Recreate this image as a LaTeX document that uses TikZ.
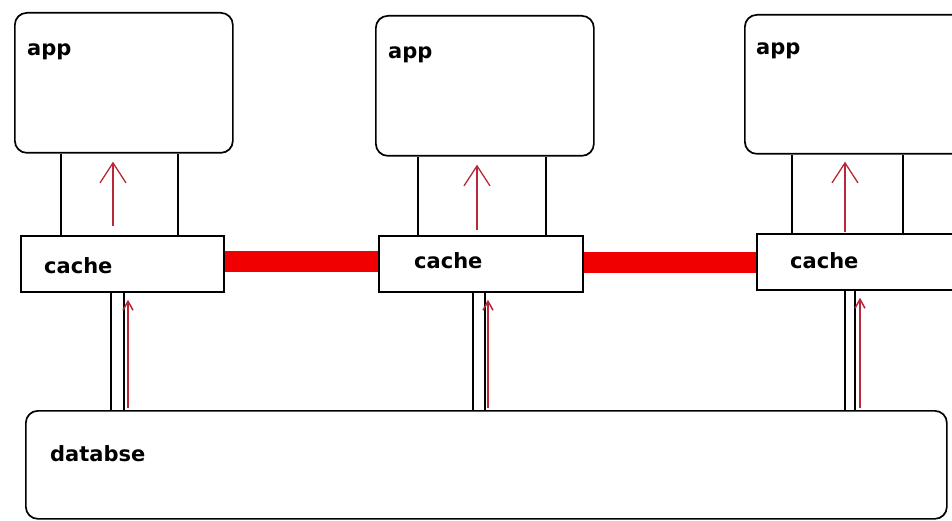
\documentclass[tikz,border=0pt]{standalone}
\usepackage{fontspec}
\setmainfont{DejaVu Sans}
\usetikzlibrary{arrows.meta}
\definecolor{flowred}{HTML}{B82838}
\definecolor{syncred}{HTML}{F00000}
\tikzset{
  box/.style={draw=black, line width=1.7pt, inner sep=0pt, anchor=north west},
  appbox/.style={box, rounded corners=12pt},
  cachebox/.style={box},
  dbbox/.style={box, rounded corners=12pt},
  lbl/.style={anchor=base west, inner sep=0pt, font=\bfseries\fontsize{21}{25}\selectfont},
  link/.style={draw=black, line width=1.6pt},
  sync/.style={draw=syncred, line width=21pt},
  flowup/.style={draw=flowred, line width=1.3pt, -{Straight Barb[length=20pt,width=26pt,line width=1.3pt]}},
  flowsmall/.style={draw=flowred, line width=1.6pt, -{Straight Barb[length=9pt,width=10pt,line width=1.5pt]}}
}
\begin{document}
\begin{tikzpicture}[x=1pt, y=-1pt]
  \useasboundingbox (0,0) rectangle (952,521);
  \fill[white] (0,0) rectangle (952,521);
  \clip (0,0) rectangle (952,521);

  % application boxes
  \node[appbox, minimum width=218pt, minimum height=140pt] (app1) at (14,12) {};
  \node[appbox, minimum width=218pt, minimum height=140pt] (app2) at (375,15) {};
  \node[appbox, minimum width=230pt, minimum height=139pt] (app3) at (744,14) {};

  % cache boxes
  \node[cachebox, minimum width=203pt, minimum height=56pt] (cache1) at (20,235) {};
  \node[cachebox, minimum width=204pt, minimum height=56pt] (cache2) at (378,235) {};
  \node[cachebox, minimum width=220pt, minimum height=56pt] (cache3) at (756,233) {};

  % database
  \node[dbbox, minimum width=921pt, minimum height=108pt] (db) at (25,410) {};

  % labels
  \node[lbl] (t1) at (27,56) {app};
  \node[lbl] (t2) at (388,59) {app};
  \node[lbl] (t3) at (756,55) {app};
  \node[lbl] (c1) at (44,273) {cache};
  \node[lbl] (c2) at (414,269) {cache};
  \node[lbl] (c3) at (790,268) {cache};
  \node[lbl] (d1) at (50,461) {databse};

  % app <-> cache channels
  \foreach \a/\c/\x in {app1/cache1/61, app1/cache1/178, app2/cache2/418, app2/cache2/546, app3/cache3/792, app3/cache3/903}
    \draw[link] (\a.south -| \x,0) -- (\c.north -| \x,0);

  % cache <-> database channels
  \foreach \c/\x in {cache1/111, cache1/124, cache2/473, cache2/485, cache3/845, cache3/855}
    \draw[link] (\c.south -| \x,0) -- (db.north -| \x,0);

  % cache replication links
  \draw[sync] (cache1.east |- 0,261) -- (cache2.west |- 0,261);
  \draw[sync] (cache2.east |- 0,262) -- (cache3.west |- 0,262);

  % data flow: cache up to app
  \draw[flowup] ([yshift=9pt]cache1.north -| 113,0) -- ([yshift=-8pt]app1.south -| 113,0);
  \draw[flowup] ([yshift=5pt]cache2.north -| 477,0) -- ([yshift=-8pt]app2.south -| 477,0);
  \draw[flowup] ([yshift=1pt]cache3.north -| 845,0) -- ([yshift=-7pt]app3.south -| 845,0);

  % data flow: database up to cache
  \draw[flowsmall] ([yshift=2pt]db.north -| 128,0) -- ([yshift=-7pt]cache1.south -| 128,0);
  \draw[flowsmall] ([yshift=2pt]db.north -| 488,0) -- ([yshift=-7pt]cache2.south -| 488,0);
  \draw[flowsmall] ([yshift=2pt]db.north -| 860,0) -- ([yshift=-7pt]cache3.south -| 860,0);
\end{tikzpicture}
\end{document}
